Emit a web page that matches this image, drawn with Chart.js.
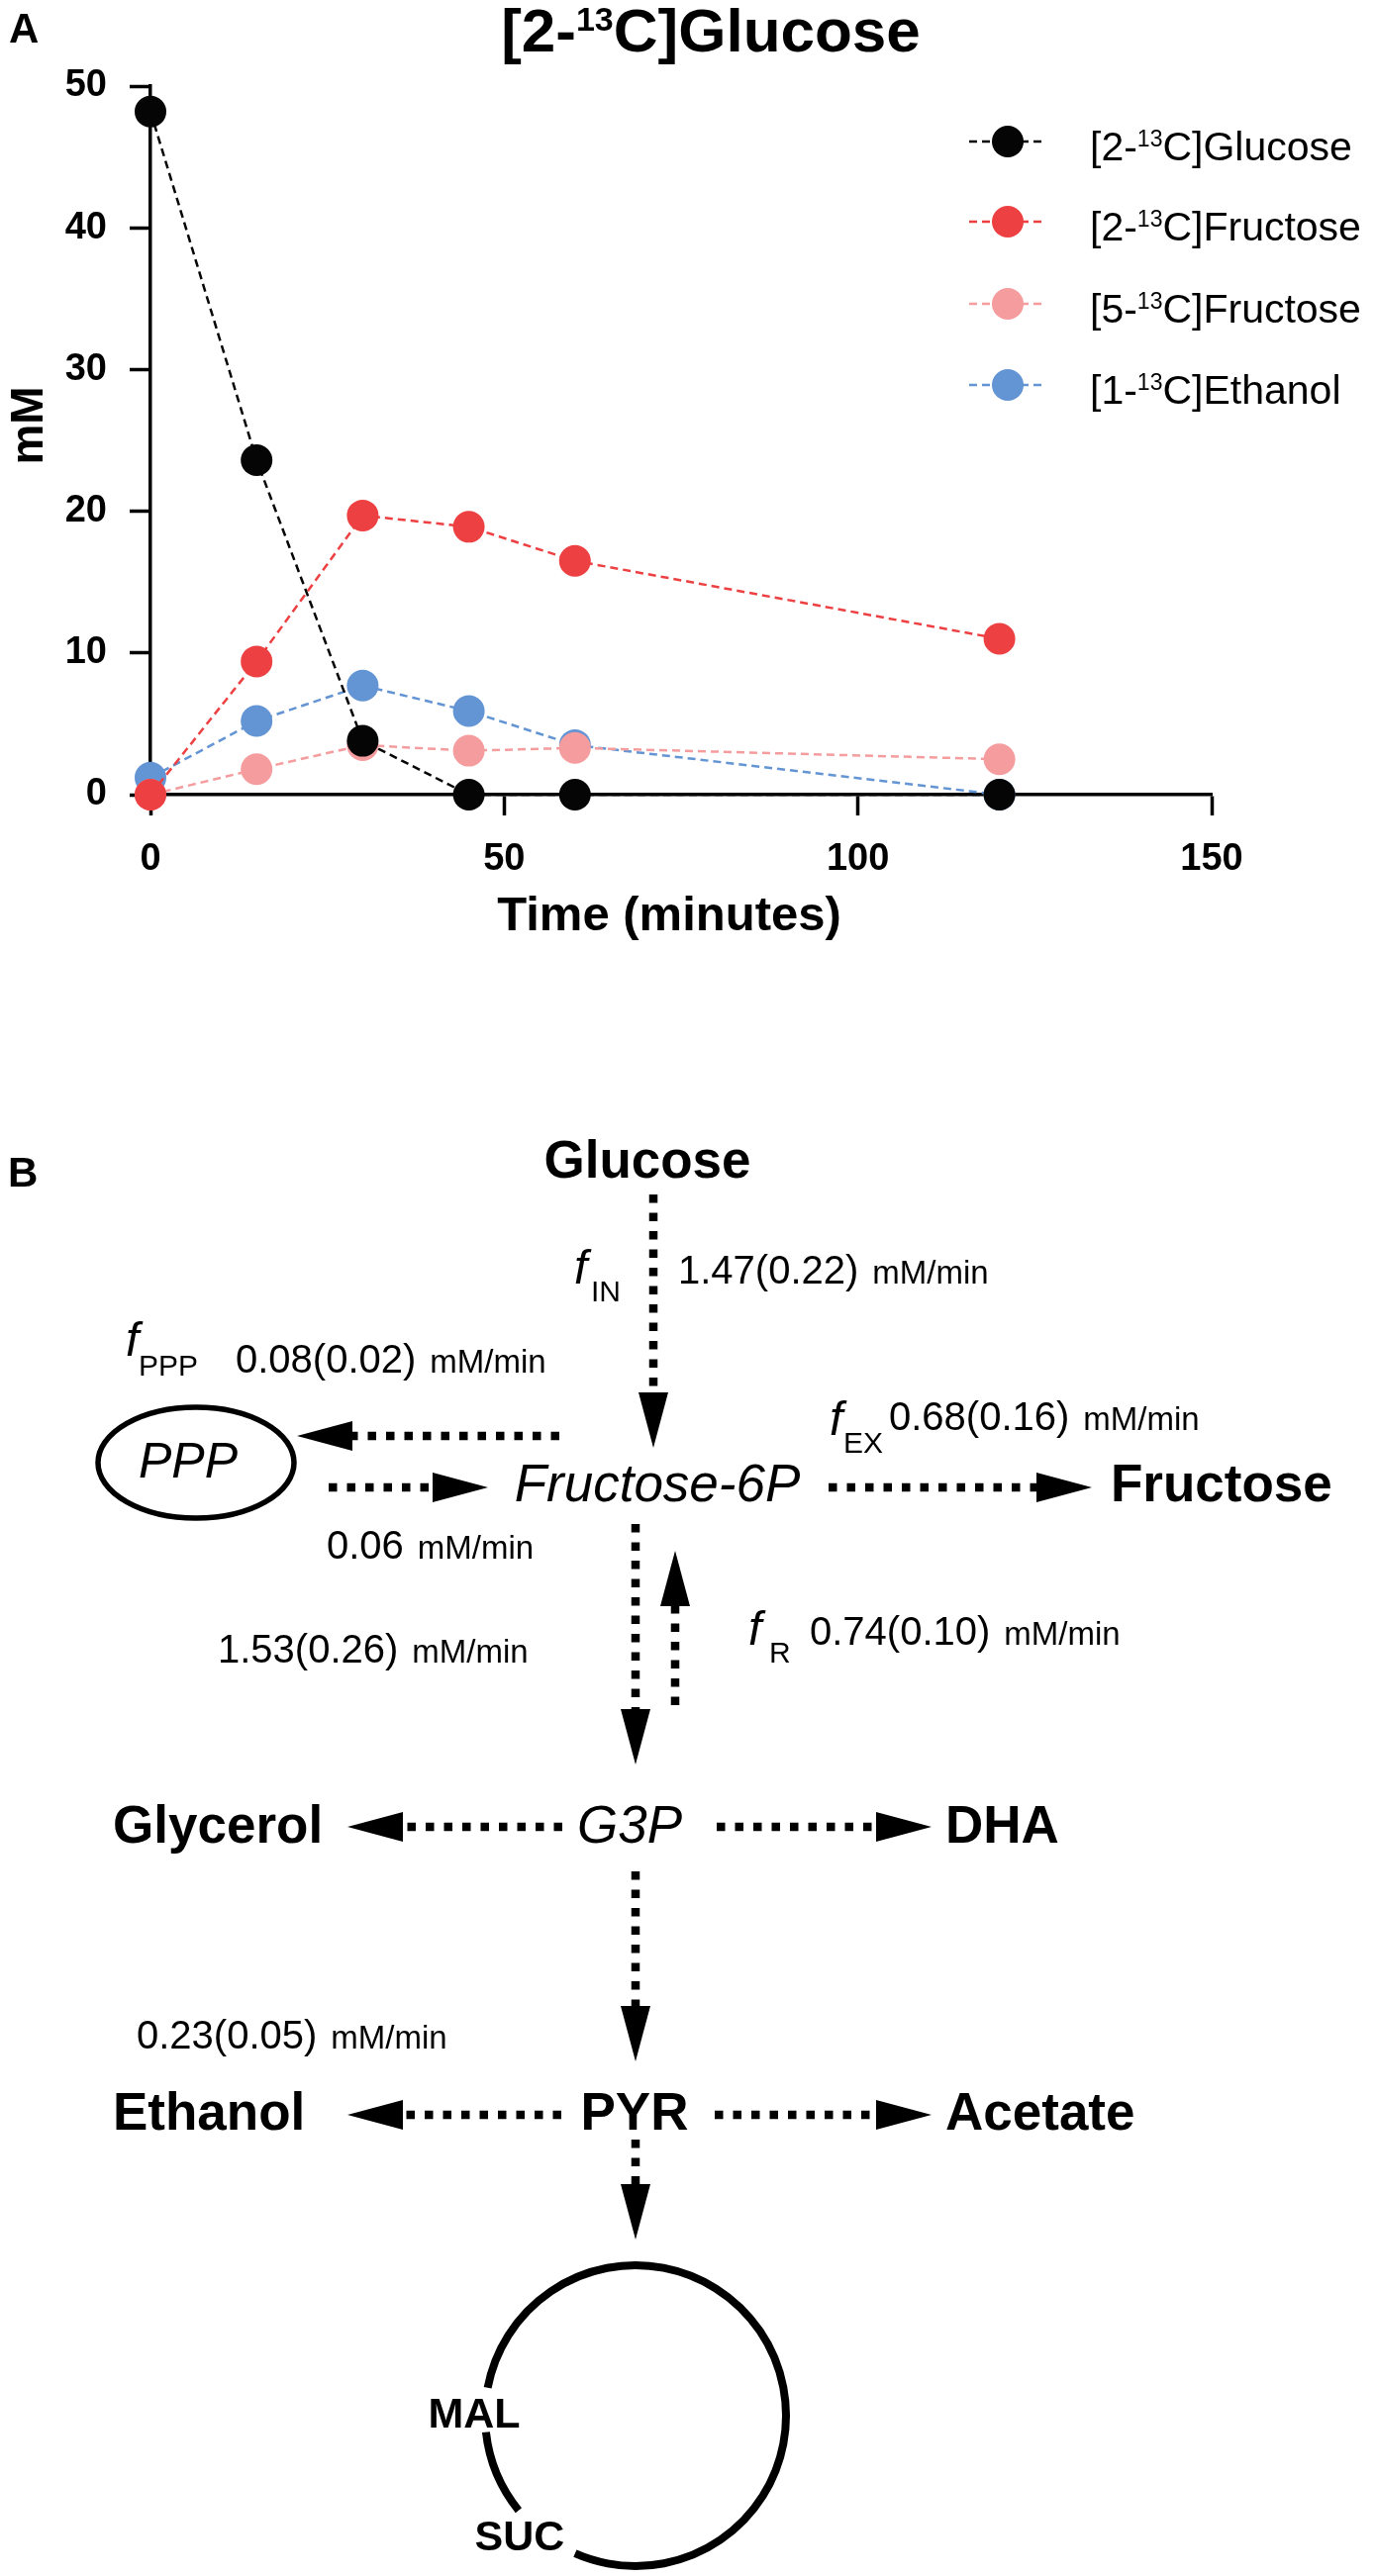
<!DOCTYPE html>
<html>
<head>
<meta charset="utf-8">
<title>[2-13C]Glucose time course and pathway</title>
<script src="https://cdn.jsdelivr.net/npm/chart.js@4.4.1/dist/chart.umd.min.js"></script>
<style>
  html, body { margin: 0; padding: 0; background: #fff; }
  #wrap { position: relative; width: 1390px; height: 2603px; }
  canvas { position: absolute; left: 0; display: block; }
  #timecourse { top: 0; width: 1390px; height: 1000px; }
  #pathway { top: 1000px; width: 1390px; height: 1603px; }
</style>
</head>
<body>
<div id="wrap">
  <canvas id="timecourse" width="1390" height="1000"></canvas>
  <canvas id="pathway" width="1390" height="1603"></canvas>
</div>
<script>
// ---- Panel A data ----
const timeMin = [0, 15, 30, 45, 60, 120];
const glucose2C = [48.2, 23.6, 3.8, 0, 0, 0];
const fructose2C = [0, 9.4, 19.7, 18.9, 16.5, 11.0];
const fructose5C = [0, 1.8, 3.5, 3.1, 3.3, 2.5];
const ethanol1C = [1.2, 5.2, 7.7, 5.9, 3.5, 0];
const xTicks = [0, 50, 100, 150];
const yTicks = [0, 10, 20, 30, 40, 50];
// label pieces: prefix, superscript, suffix
const seriesLabels = [
  ['[2-', '13', 'C]Glucose'],
  ['[2-', '13', 'C]Fructose'],
  ['[5-', '13', 'C]Fructose'],
  ['[1-', '13', 'C]Ethanol']
];
const xTitle = 'Time (minutes)';
const yTitle = 'mM';

// ---- Panel B data ----
const pathNodes = ['Glucose', 'Fructose-6P', 'Fructose', 'PPP', 'Glycerol', 'G3P',
                   'DHA', 'Ethanol', 'PYR', 'Acetate', 'MAL', 'SUC'];
const reactions = [
  ['Glucose', 'Fructose-6P'], ['Fructose-6P', 'PPP'], ['PPP', 'Fructose-6P'],
  ['Fructose-6P', 'Fructose'], ['Fructose-6P', 'G3P'], ['G3P', 'Fructose-6P'],
  ['G3P', 'Glycerol'], ['G3P', 'DHA'], ['G3P', 'PYR'],
  ['PYR', 'Ethanol'], ['PYR', 'Acetate'], ['PYR', 'TCA']
];
const fluxNames = ['IN', 'PPP', 'EX', 'R'];
const fluxRates = ['1.47(0.22)', '0.08(0.02)', '0.68(0.16)', '0.74(0.10)'];
const otherRates = ['0.06', '1.53(0.26)', '0.23(0.05)'];
const rateUnit = 'mM/min';

const FONT = "'Liberation Sans', Arial, Helvetica, sans-serif";
const seriesColors = ['#050505', '#ED4042', '#F59C9E', '#6394D3'];
const seriesValues = [glucose2C, fructose2C, fructose5C, ethanol1C];

// ---------- Panel A ----------
const panelAPlugin = {
  id: 'panelA',
  afterDraw(chart) {
    const ctx = chart.ctx;
    ctx.save();
    ctx.fillStyle = '#000';
    ctx.textBaseline = 'alphabetic';
    ctx.textAlign = 'left';

    // panel letter
    ctx.font = `bold 42px ${FONT}`;
    ctx.fillText('A', 9, 43);

    // title with superscript
    drawSupText(ctx, ['[2-', '13', 'C]Glucose'], 718, 52, 62, true, 'center');

    // axis titles
    ctx.font = `bold 49px ${FONT}`;
    ctx.textAlign = 'center';
    ctx.fillText(xTitle, 676, 940);
    ctx.save();
    ctx.translate(43, 430);
    ctx.rotate(-Math.PI / 2);
    ctx.font = `bold 46px ${FONT}`;
    ctx.fillText(yTitle, 0, 0);
    ctx.restore();

    // legend, inside the plot at top right
    const rowY = [143, 224, 307, 389];
    chart.data.datasets.forEach((ds, i) => {
      const y = rowY[i];
      ctx.strokeStyle = ds.borderColor;
      ctx.lineWidth = 2.5;
      ctx.setLineDash([8, 5]);
      ctx.beginPath();
      ctx.moveTo(979, y);
      ctx.lineTo(1057, y);
      ctx.stroke();
      ctx.setLineDash([]);
      ctx.fillStyle = ds.backgroundColor;
      ctx.beginPath();
      ctx.arc(1018, y, 16, 0, Math.PI * 2);
      ctx.fill();
      ctx.fillStyle = '#000';
      drawSupText(ctx, seriesLabels[i], 1101, y + 19, 41, false, 'left');
    });
    ctx.restore();
  }
};

function drawSupText(ctx, parts, x, y, size, bold, align) {
  const w = bold ? 'bold ' : '';
  const supSize = Math.round(size * 0.55);
  ctx.font = `${w}${size}px ${FONT}`;
  const w0 = ctx.measureText(parts[0]).width;
  const w2 = ctx.measureText(parts[2]).width;
  ctx.font = `${w}${supSize}px ${FONT}`;
  const w1 = ctx.measureText(parts[1]).width;
  let left = align === 'center' ? x - (w0 + w1 + w2) / 2 : x;
  ctx.textAlign = 'left';
  ctx.font = `${w}${size}px ${FONT}`;
  ctx.fillText(parts[0], left, y);
  ctx.font = `${w}${supSize}px ${FONT}`;
  ctx.fillText(parts[1], left + w0, y - size * 0.34);
  ctx.font = `${w}${size}px ${FONT}`;
  ctx.fillText(parts[2], left + w0 + w1, y);
}

const axisFont = { family: FONT, weight: 'bold', size: 38 };

new Chart(document.getElementById('timecourse'), {
  type: 'line',
  data: {
    datasets: seriesValues.map((vals, i) => ({
      label: seriesLabels[i].join(''),
      data: timeMin.map((t, j) => ({ x: t, y: vals[j] })),
      borderColor: seriesColors[i],
      backgroundColor: seriesColors[i],
      borderWidth: 2.5,
      borderDash: [8, 5],
      pointRadius: 16,
      pointHoverRadius: 16,
      pointBorderWidth: 0,
      pointBackgroundColor: seriesColors[i],
      tension: 0,
      fill: false,
      clip: false
    }))
  },
  options: {
    responsive: false,
    animation: false,
    events: [],
    layout: { padding: { top: 87, right: 166, left: 0, bottom: 0 }, autoPadding: false },
    plugins: {
      legend: { display: false },
      title: { display: false },
      tooltip: { enabled: false }
    },
    scales: {
      x: {
        type: 'linear',
        min: 0,
        max: 150,
        afterBuildTicks: (s) => { s.ticks = xTicks.map(v => ({ value: v })); },
        afterFit: (s) => { s.height = 197; },
        border: { color: '#000', width: 3.5 },
        grid: { display: true, drawOnChartArea: false, drawTicks: true, tickLength: 21, tickWidth: 3.5, tickColor: '#000' },
        ticks: { color: '#000', font: axisFont, padding: 22, maxRotation: 0 }
      },
      y: {
        type: 'linear',
        min: 0,
        max: 50,
        afterBuildTicks: (s) => { s.ticks = yTicks.map(v => ({ value: v })); },
        afterFit: (s) => { s.width = 152; },
        border: { color: '#000', width: 3.5 },
        grid: { display: true, drawOnChartArea: false, drawTicks: true, tickLength: 21, tickWidth: 3.5, tickColor: '#000' },
        ticks: { color: '#000', font: axisFont, padding: 23 }
      }
    }
  },
  plugins: [panelAPlugin]
});

// ---------- Panel B (pathway drawn on hidden linear scales) ----------
// layout in diagram units (x: 0..1390, y: 1000..2603 top to bottom)
const nodeLayout = {
  'Glucose':     { x: 654,  y: 1190, align: 'center', font: 'bold 53px' },
  'Fructose-6P': { x: 664,  y: 1517, align: 'center', font: 'italic 53px' },
  'Fructose':    { x: 1122, y: 1517, align: 'left',   font: 'bold 53px' },
  'PPP':         { x: 190,  y: 1493, align: 'center', font: 'italic 50px' },
  'Glycerol':    { x: 114,  y: 1862, align: 'left',   font: 'bold 53px' },
  'G3P':         { x: 636,  y: 1862, align: 'center', font: 'italic 53px' },
  'DHA':         { x: 955,  y: 1862, align: 'left',   font: 'bold 53px' },
  'Ethanol':     { x: 114,  y: 2152, align: 'left',   font: 'bold 53px' },
  'PYR':         { x: 641,  y: 2152, align: 'center', font: 'bold 53px' },
  'Acetate':     { x: 955,  y: 2152, align: 'left',   font: 'bold 53px' },
  'MAL':         { x: 479,  y: 2453, align: 'center', font: 'bold 43px' },
  'SUC':         { x: 525,  y: 2577, align: 'center', font: 'bold 43px' }
};
// arrow geometry per reaction: start -> tip
const arrowLayout = [
  [660, 1207, 660, 1463],
  [565, 1451, 300, 1451],
  [332, 1503, 493, 1503],
  [837, 1503, 1103, 1503],
  [642, 1540, 642, 1783],
  [682, 1723, 682, 1567],
  [568, 1846, 351, 1846],
  [724, 1846, 941, 1846],
  [642, 1891, 642, 2083],
  [567, 2137, 351, 2137],
  [722, 2137, 941, 2137],
  [642, 2162, 642, 2263]
];
const fluxLayout = [
  { fx: 580, fy: 1297, sx: 597, sy: 1315, vx: 685, vy: 1297 },
  { fx: 127, fy: 1370, sx: 140, sy: 1390, vx: 238, vy: 1387 },
  { fx: 838, fy: 1450, sx: 852, sy: 1468, vx: 898, vy: 1445 },
  { fx: 756, fy: 1662, sx: 777, sy: 1680, vx: 818, vy: 1662 }
];
const otherRateLayout = [[330, 1575], [220, 1680], [138, 2070]];
const pppEllipse = { x: 198, y: 1478, rx: 99, ry: 56 };
const tcaCycle = { x: 642, y: 2441, r: 152, arcs: [[190.7, 473.7], [141, 173.7]] };

function drawArrow(ctx, x1, y1, x2, y2) {
  const len = Math.hypot(x2 - x1, y2 - y1);
  const ux = (x2 - x1) / len, uy = (y2 - y1) / len;
  const headLen = 56, headHalf = 15;
  const bx = x2 - ux * headLen, by = y2 - uy * headLen;
  ctx.save();
  ctx.strokeStyle = '#000';
  ctx.lineWidth = 8.5;
  ctx.lineCap = 'butt';
  ctx.setLineDash([8.5, 10]);
  ctx.beginPath();
  ctx.moveTo(x1, y1);
  ctx.lineTo(bx, by);
  ctx.stroke();
  ctx.setLineDash([]);
  ctx.fillStyle = '#000';
  ctx.beginPath();
  ctx.moveTo(x2, y2);
  ctx.lineTo(bx - uy * headHalf, by + ux * headHalf);
  ctx.lineTo(bx + uy * headHalf, by - ux * headHalf);
  ctx.closePath();
  ctx.fill();
  ctx.restore();
}

function drawRate(ctx, value, x, y) {
  ctx.textAlign = 'left';
  ctx.font = `40px ${FONT}`;
  ctx.fillText(value, x, y);
  const w = ctx.measureText(value).width;
  ctx.font = `33px ${FONT}`;
  ctx.fillText(rateUnit, x + w + 14, y);
}

const pathwayPlugin = {
  id: 'pathway',
  afterDraw(chart) {
    const ctx = chart.ctx;
    const sx = chart.scales.x, sy = chart.scales.y;
    const px = v => sx.getPixelForValue(v);
    const py = v => sy.getPixelForValue(v);
    ctx.save();
    ctx.fillStyle = '#000';
    ctx.textBaseline = 'alphabetic';

    ctx.textAlign = 'left';
    ctx.font = `bold 42px ${FONT}`;
    ctx.fillText('B', px(8), py(1199));

    pathNodes.forEach(name => {
      const L = nodeLayout[name];
      ctx.font = `${L.font} ${FONT}`;
      ctx.textAlign = L.align;
      ctx.fillText(name, px(L.x), py(L.y));
    });

    reactions.forEach((r, i) => {
      const a = arrowLayout[i];
      drawArrow(ctx, px(a[0]), py(a[1]), px(a[2]), py(a[3]));
    });

    fluxNames.forEach((name, i) => {
      const L = fluxLayout[i];
      ctx.textAlign = 'left';
      ctx.font = `italic 48px ${FONT}`;
      ctx.fillText('f', px(L.fx), py(L.fy));
      ctx.font = `30px ${FONT}`;
      ctx.fillText(name, px(L.sx), py(L.sy));
      drawRate(ctx, fluxRates[i], px(L.vx), py(L.vy));
    });

    otherRates.forEach((v, i) => {
      const p = otherRateLayout[i];
      drawRate(ctx, v, px(p[0]), py(p[1]));
    });

    // PPP ellipse
    ctx.strokeStyle = '#000';
    ctx.lineWidth = 5.5;
    ctx.beginPath();
    ctx.ellipse(px(pppEllipse.x), py(pppEllipse.y), pppEllipse.rx, pppEllipse.ry, 0, 0, Math.PI * 2);
    ctx.stroke();

    // TCA cycle, broken where MAL and SUC sit
    ctx.lineWidth = 8;
    tcaCycle.arcs.forEach(([a0, a1]) => {
      ctx.beginPath();
      ctx.arc(px(tcaCycle.x), py(tcaCycle.y), tcaCycle.r, a0 * Math.PI / 180, a1 * Math.PI / 180);
      ctx.stroke();
    });
    ctx.restore();
  }
};

new Chart(document.getElementById('pathway'), {
  type: 'scatter',
  data: {
    datasets: [{
      data: pathNodes.map(n => ({ x: nodeLayout[n].x, y: nodeLayout[n].y })),
      pointRadius: 0,
      showLine: false
    }]
  },
  options: {
    responsive: false,
    animation: false,
    events: [],
    layout: { padding: 0, autoPadding: false },
    plugins: { legend: { display: false }, tooltip: { enabled: false } },
    scales: {
      x: { type: 'linear', min: 0, max: 1390, display: false },
      y: { type: 'linear', min: 1000, max: 2603, reverse: true, display: false }
    }
  },
  plugins: [pathwayPlugin]
});
</script>
</body>
</html>
